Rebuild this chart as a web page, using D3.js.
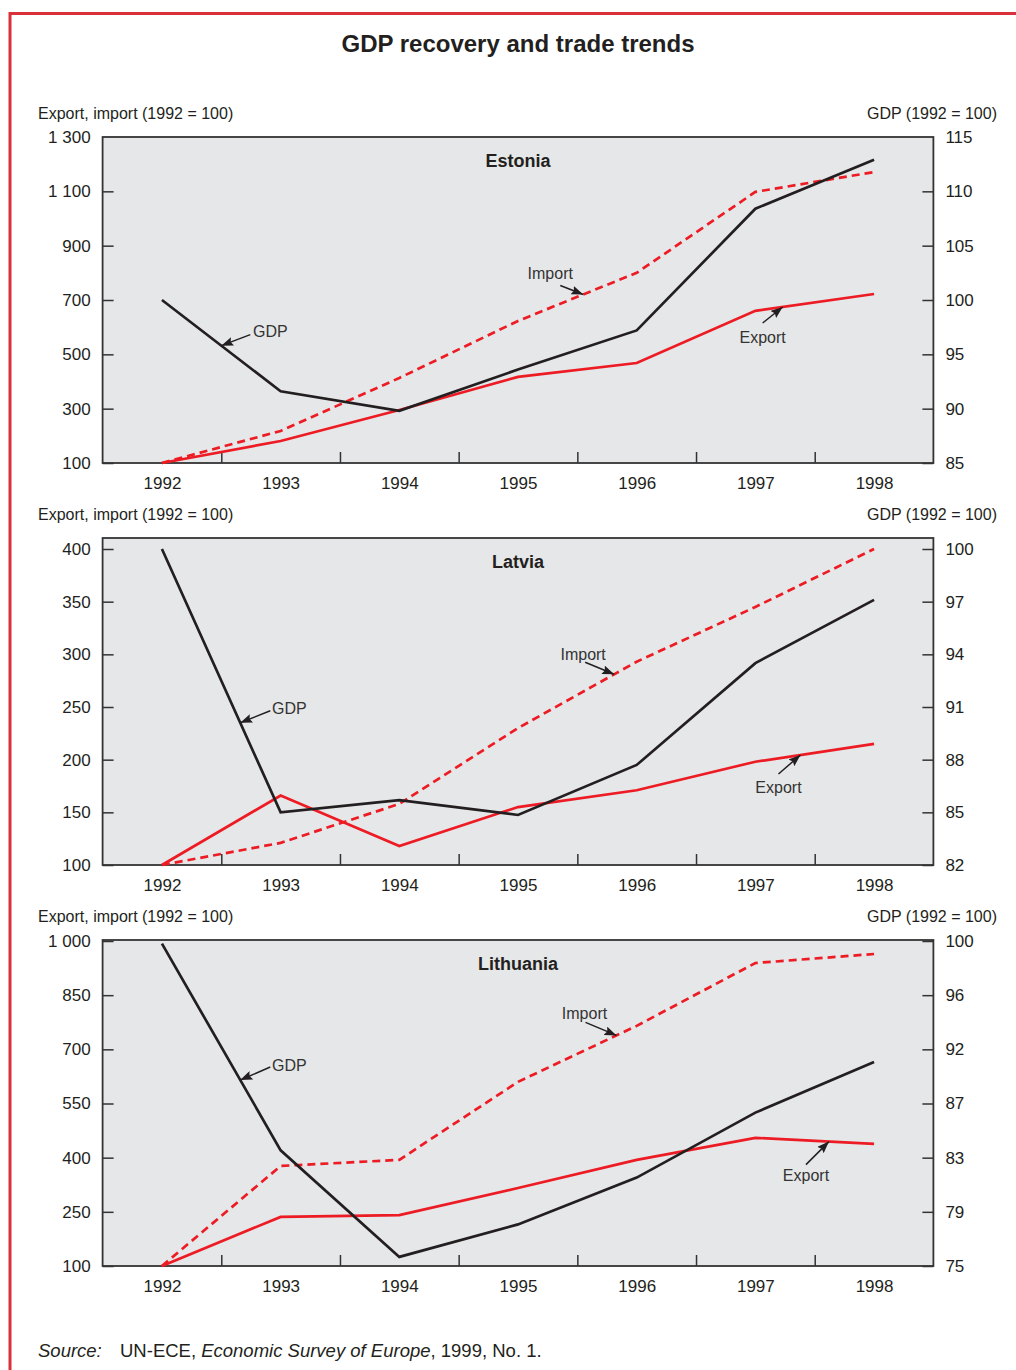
<!DOCTYPE html>
<html>
<head>
<meta charset="utf-8">
<script src="https://cdn.jsdelivr.net/npm/d3@7"></script>
<style>
  body { margin: 0; background: #fff; }
  svg { display: block; font-family: "Liberation Sans", Arial, sans-serif; }
</style>
</head>
<body>
<script>
// years on the x axis
const years = [1992, 1993, 1994, 1995, 1996, 1997, 1998];

// Estonia
const estoniaExport = [100, 181, 295, 417, 468, 660, 722];
const estoniaImport = [100, 218, 413, 623, 800, 1098, 1171];
const estoniaGDP = [100, 91.6, 89.8, 93.6, 97.2, 108.4, 112.9];
const estoniaLeftTicks = [100, 300, 500, 700, 900, 1100, 1300];
const estoniaGDPTicks = ['85', '90', '95', '100', '105', '110', '115'];

// Latvia
const latviaExport = [100, 166, 118, 155, 171, 198, 215];
const latviaImport = [100, 121, 158, 230, 293, 345, 400];
const latviaGDP = [100, 85.0, 85.7, 84.85, 87.7, 93.5, 97.1];
const latviaLeftTicks = [100, 150, 200, 250, 300, 350, 400];
const latviaGDPTicks = ['82', '85', '88', '91', '94', '97', '100'];

// Lithuania
const lithuaniaExport = [100, 236, 241, 316, 394, 455, 438];
const lithuaniaImport = [100, 377, 394, 610, 765, 939, 964];
const lithuaniaGDP = [99.8, 83.9, 75.7, 78.2, 81.8, 86.8, 90.7];
const lithuaniaLeftTicks = [100, 250, 400, 550, 700, 850, 1000];
const lithuaniaGDPTicks = ['75', '79', '83', '87', '92', '96', '100'];

const width = 1016;
const height = 1370;
const left = 102.6;
const right = 933.4;
const red = '#ed1c24';
const ink = '#231f20';

const fmt = d3.formatLocale({ decimal: '.', thousands: ' ', grouping: [3], currency: ['', ''] }).format(',');

const panels = [
  { name: 'Estonia', exp: estoniaExport, imp: estoniaImport, gdp: estoniaGDP,
    leftTicks: estoniaLeftTicks, gdpTicks: estoniaGDPTicks, gdpDomain: [85, 115],
    frameTop: 137, top: 137, bottom: 463,
    notes: [
      { text: 'GDP', key: 'gdp', t: 1992.5, tail: [29, -11], label: [49, -14] },
      { text: 'Import', key: 'imp', t: 1995.55, tail: [-23, -9], label: [-33, -21] },
      { text: 'Export', key: 'exp', t: 1997.23, tail: [-20, 16], label: [-20, 30] }
    ] },
  { name: 'Latvia', exp: latviaExport, imp: latviaImport, gdp: latviaGDP,
    leftTicks: latviaLeftTicks, gdpTicks: latviaGDPTicks, gdpDomain: [82, 100],
    frameTop: 538, top: 549, bottom: 865,
    notes: [
      { text: 'GDP', key: 'gdp', t: 1992.66, tail: [30, -12], label: [49, -14] },
      { text: 'Import', key: 'imp', t: 1995.81, tail: [-29, -12], label: [-31, -20] },
      { text: 'Export', key: 'exp', t: 1997.38, tail: [-22, 19], label: [-22, 32] }
    ] },
  { name: 'Lithuania', exp: lithuaniaExport, imp: lithuaniaImport, gdp: lithuaniaGDP,
    leftTicks: lithuaniaLeftTicks, gdpTicks: lithuaniaGDPTicks, gdpDomain: [75, 100],
    frameTop: 940, top: 941, bottom: 1266,
    notes: [
      { text: 'GDP', key: 'gdp', t: 1992.66, tail: [30, -13], label: [49, -15] },
      { text: 'Import', key: 'imp', t: 1995.83, tail: [-31, -13], label: [-32, -22] },
      { text: 'Export', key: 'exp', t: 1997.62, tail: [-23, 23], label: [-23, 34] }
    ] }
];

const svg = d3.select('body').append('svg')
  .attr('width', width)
  .attr('height', height);

svg.append('defs').append('marker')
  .attr('id', 'arrow')
  .attr('viewBox', '0 0 12 9')
  .attr('refX', 12).attr('refY', 4.5)
  .attr('markerWidth', 12).attr('markerHeight', 9)
  .attr('markerUnits', 'userSpaceOnUse')
  .attr('orient', 'auto')
  .append('path')
  .attr('d', 'M0,0 L12,4.5 L0,9 L2,4.5 Z')
  .attr('fill', ink);

// red page border
svg.append('path')
  .attr('d', `M10,${height} L10,13.5 L${width},13.5`)
  .attr('fill', 'none')
  .attr('stroke', '#d9303a')
  .attr('stroke-width', 3);

svg.append('text')
  .attr('x', 518).attr('y', 52)
  .attr('text-anchor', 'middle')
  .attr('font-weight', 'bold')
  .attr('font-size', 24)
  .attr('fill', ink)
  .text('GDP recovery and trade trends');

const x = d3.scaleLinear().domain([1991.5, 1998.5]).range([left, right]);

panels.forEach(p => {
  const leftMax = p.leftTicks[p.leftTicks.length - 1];
  const y = d3.scaleLinear().domain([p.leftTicks[0], leftMax]).range([p.bottom, p.top]);
  const yG = d3.scaleLinear().domain(p.gdpDomain).range([p.bottom, p.top]);
  const g = svg.append('g');

  g.append('rect')
    .attr('x', left).attr('y', p.frameTop)
    .attr('width', right - left).attr('height', p.bottom - p.frameTop)
    .attr('fill', '#e6e7e8')
    .attr('stroke', '#333')
    .attr('stroke-width', 1.8);

  // axis titles
  g.append('text')
    .attr('x', 38).attr('y', p.frameTop - 18)
    .attr('font-size', 16).attr('fill', ink)
    .text('Export, import (1992 = 100)');
  g.append('text')
    .attr('x', 997).attr('y', p.frameTop - 18)
    .attr('text-anchor', 'end')
    .attr('font-size', 16).attr('fill', ink)
    .text('GDP (1992 = 100)');

  // left axis
  const axL = g.append('g')
    .attr('transform', `translate(${left},0)`)
    .call(d3.axisLeft(y).tickValues(p.leftTicks).tickFormat(fmt).tickSize(-11).tickPadding(12));
  // right axis shares the left grid
  const axR = g.append('g')
    .attr('transform', `translate(${right},0)`)
    .call(d3.axisRight(y).tickValues(p.leftTicks).tickFormat((d, i) => p.gdpTicks[i]).tickSize(-11).tickPadding(12));
  // year labels
  const axB = g.append('g')
    .attr('transform', `translate(0,${p.bottom})`)
    .call(d3.axisBottom(x).tickValues(years).tickFormat(d3.format('d')).tickSize(0).tickPadding(14));
  // half-year tick marks
  const axT = g.append('g')
    .attr('transform', `translate(0,${p.bottom})`)
    .call(d3.axisBottom(x).tickValues(years.slice(0, -1).map(v => v + 0.5)).tickFormat('').tickSize(-11));

  [axL, axR, axB, axT].forEach(a => {
    a.select('.domain').remove();
    a.selectAll('line').attr('stroke', '#333').attr('stroke-width', 1.5);
    a.selectAll('text').attr('font-size', 17).attr('fill', ink)
      .attr('font-family', '"Liberation Sans", Arial, sans-serif');
  });
  // the top tick sits on the frame edge when the frame starts at the top tick
  axL.selectAll('.tick').filter(d => d === leftMax && p.frameTop === p.top).select('line').remove();
  axR.selectAll('.tick').filter(d => d === leftMax && p.frameTop === p.top).select('line').remove();

  g.append('text')
    .attr('x', 518).attr('y', p.frameTop + 30)
    .attr('text-anchor', 'middle')
    .attr('font-weight', 'bold')
    .attr('font-size', 18).attr('fill', ink)
    .text(p.name);

  const line = sc => d3.line().x((d, i) => x(years[i])).y(d => sc(d));

  g.append('path').datum(p.imp)
    .attr('d', line(y))
    .attr('fill', 'none').attr('stroke', red)
    .attr('stroke-width', 2.7).attr('stroke-dasharray', '8,5');
  g.append('path').datum(p.exp)
    .attr('d', line(y))
    .attr('fill', 'none').attr('stroke', red)
    .attr('stroke-width', 2.7);
  g.append('path').datum(p.gdp)
    .attr('d', line(yG))
    .attr('fill', 'none').attr('stroke', ink)
    .attr('stroke-width', 2.7);

  // annotations: arrow tips sit on the series at year t
  const scales = { gdp: yG, imp: y, exp: y };
  p.notes.forEach(n => {
    const vals = p[n.key];
    const i = Math.min(Math.floor(n.t - years[0]), years.length - 2);
    const f = n.t - years[i];
    const tx = x(n.t);
    const ty = scales[n.key](vals[i]) * (1 - f) + scales[n.key](vals[i + 1]) * f;
    g.append('line')
      .attr('x1', tx + n.tail[0]).attr('y1', ty + n.tail[1])
      .attr('x2', tx).attr('y2', ty)
      .attr('stroke', ink).attr('stroke-width', 1.5)
      .attr('marker-end', 'url(#arrow)');
    g.append('text')
      .attr('x', tx + n.label[0]).attr('y', ty + n.label[1])
      .attr('dy', '0.35em')
      .attr('text-anchor', 'middle')
      .attr('font-size', 16).attr('fill', '#333')
      .text(n.text);
  });
});

// source note
const src = svg.append('text')
  .attr('x', 38).attr('y', 1357)
  .attr('font-size', 18.5).attr('fill', ink);
src.append('tspan').attr('font-style', 'italic').text('Source:');
src.append('tspan').attr('x', 120).text('UN-ECE, ');
src.append('tspan').attr('font-style', 'italic').text('Economic Survey of Europe');
src.append('tspan').text(', 1999, No. 1.');
</script>
</body>
</html>
